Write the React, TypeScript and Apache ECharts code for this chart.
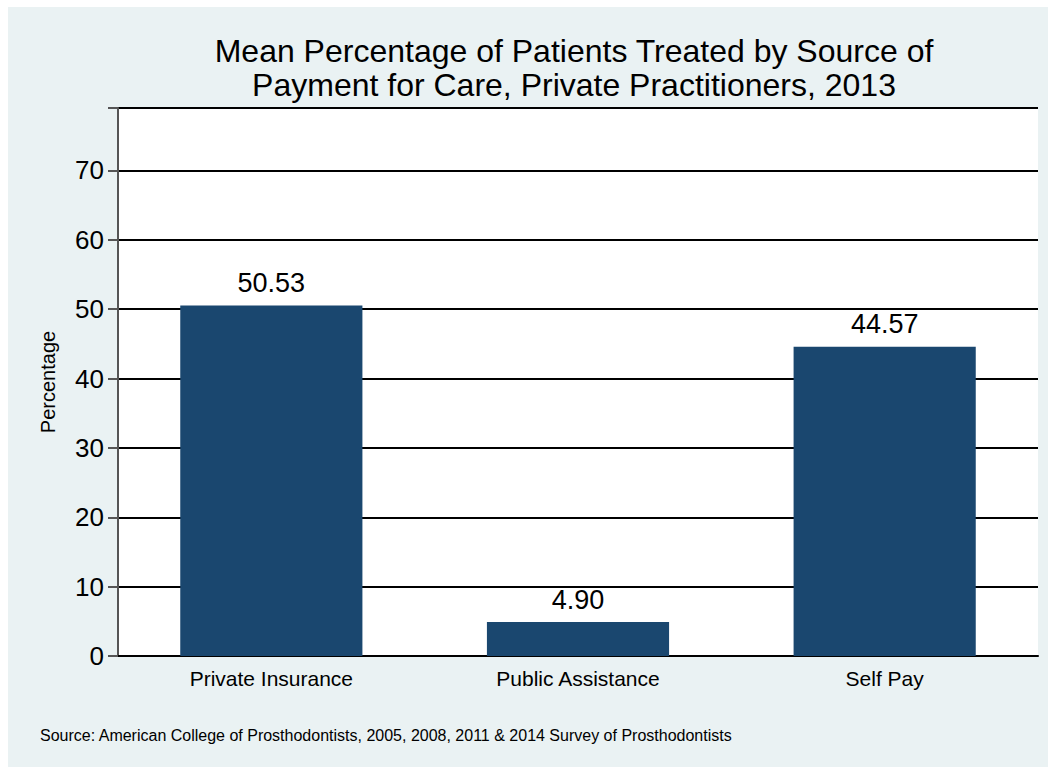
import React, { useEffect, useRef } from "react";
import * as echarts from "echarts";

const categories = ["Private Insurance", "Public Assistance", "Self Pay"];
const values = [50.53, 4.9, 44.57];
const yTicks = [0, 10, 20, 30, 40, 50, 60, 70];
const titleLines = [
  "Mean Percentage of Patients Treated by Source of",
  "Payment for Care, Private Practitioners, 2013",
];
const sourceNote =
  "Source: American College of Prosthodontists, 2005, 2008, 2011 & 2014 Survey of Prosthodontists";

export default function App() {
  const ref = useRef<HTMLDivElement>(null);
  useEffect(() => {
    document.documentElement.style.overflow = "hidden";
    document.body.style.overflow = "hidden";
    const chart = echarts.init(ref.current!, null, { renderer: "svg" });
    const font = "'Liberation Sans', Arial, Helvetica, sans-serif";
    chart.setOption({
      animation: false,
      backgroundColor: "#EAF2F3",
      textStyle: { fontFamily: font },
      title: {
        text: titleLines.join("\n"),
        left: 561,
        top: 22,
        textAlign: "center",
        textStyle: {
          fontFamily: font,
          fontSize: 32,
          fontWeight: "normal",
          color: "#000",
          lineHeight: 34,
        },
      },
      grid: { left: 110, top: 101, right: 10, bottom: 111, containLabel: false, show: true, backgroundColor: "#fff", borderWidth: 0 },
      xAxis: {
        type: "category",
        data: categories,
        axisLine: { show: true, lineStyle: { color: "#000", width: 2 } },
        axisTick: { show: false },
        axisLabel: { color: "#000", fontSize: 21, margin: 12, fontFamily: font },
      },
      yAxis: {
        type: "value",
        min: 0,
        max: 79,
        interval: 10,
        name: "Percentage",
        nameLocation: "middle",
        nameGap: 60,
        nameTextStyle: { color: "#000", fontSize: 20, fontFamily: font },
        axisLine: { show: true, lineStyle: { color: "#555", width: 2 } },
        axisTick: { show: true, inside: false, length: 10, lineStyle: { color: "#555", width: 2 } },
        axisLabel: {
          color: "#000",
          fontSize: 26,
          margin: 14,
          fontFamily: font,
          formatter: (v: number) => (yTicks.includes(v) ? String(v) : ""),
        },
        splitLine: { show: true, lineStyle: { color: "#000", width: 2 } },
      },
      series: [
        {
          type: "bar",
          data: values,
          barWidth: "59.4%",
          itemStyle: { color: "#1A476F" },
          label: {
            show: true,
            position: "top",
            distance: 9,
            color: "#000",
            fontSize: 27,
            fontFamily: font,
            formatter: (p: any) => Number(p.value).toFixed(2),
          },
        },
      ],
      graphic: [
        {
          type: "text",
          left: 32,
          top: 720,
          style: { text: sourceNote, fontSize: 16, fill: "#000", fontFamily: font },
        },
      ],
    });
    return () => chart.dispose();
  }, []);
  return (
    <div
      ref={ref}
      style={{ position: "absolute", left: 8, top: 7, width: 1040, height: 760 }}
    />
  );
}
